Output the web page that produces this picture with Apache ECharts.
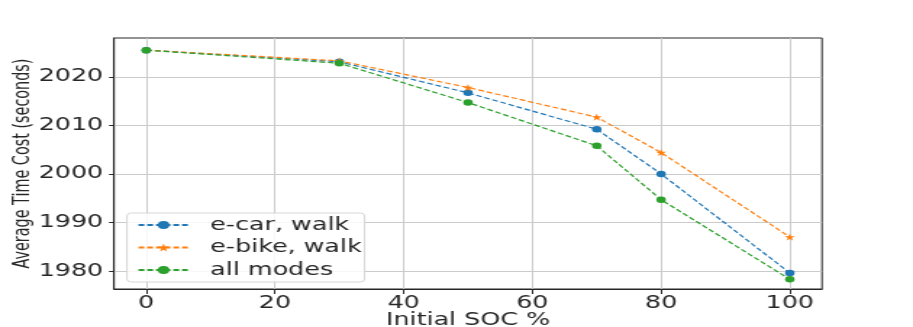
<!DOCTYPE html>
<html>
<head>
<meta charset="utf-8">
<script src="https://cdn.jsdelivr.net/npm/echarts@6/dist/echarts.min.js"></script>
<style>
html,body{margin:0;padding:0;background:#fff;overflow:hidden;}
#wrap{width:913px;height:327px;overflow:hidden;}
#c{width:630px;height:327px;transform:scaleX(1.44921);transform-origin:0 0;}
</style>
</head>
<body>
<div id="wrap"><div id="c"></div></div>
<script>
const socValues = [0, 30, 50, 70, 80, 100];
const ecarWalk = [2025.5, 2023.1, 2016.7, 2009.2, 2000.0, 1979.6];
const ebikeWalk = [2025.5, 2023.3, 2017.8, 2011.7, 2004.4, 1987.0];
const allModes = [2025.5, 2022.8, 2014.7, 2005.8, 1994.7, 1978.3];
const xTicks = [0, 20, 40, 60, 80, 100];
const yTicks = [1980, 1990, 2000, 2010, 2020];
const seriesNames = ['e-car, walk', 'e-bike, walk', 'all modes'];

const chart = echarts.init(document.getElementById('c'), null, {renderer: 'canvas'});
const pair = arr => socValues.map((x, i) => [x, arr[i]]);
const star = 'path://M0,-10 L2.35,-3.24 L9.51,-3.09 L3.8,1.24 L5.88,8.09 L0,4 L-5.88,8.09 L-3.8,1.24 L-9.51,-3.09 L-2.35,-3.24 Z';
const mk = (name, data, color, symbol, size) => ({
  name, type: 'line', data: pair(data), symbol, symbolSize: size,
  lineStyle: {color, width: 1.2, type: [4, 2]},
  itemStyle: {color}, color, animation: false
});
const ink = '#262626';
chart.setOption({
  animation: false,
  grid: {left: 78.7, right: 62.8, top: 38, bottom: 38, show: true, borderColor: ink, borderWidth: 1,
         containLabel: false, outerBoundsMode: 'none'},
  xAxis: {
    type: 'value', min: -5, max: 105,
    name: 'Initial SOC %', nameLocation: 'middle', nameGap: 22, nameMoveOverlap: false,
    nameTextStyle: {fontFamily: 'DejaVu Sans', fontSize: 17.5, color: ink},
    axisLine: {show: true, onZero: false, lineStyle: {color: ink, width: 1}},
    axisTick: {show: true, inside: false, length: 5, lineStyle: {color: ink}, customValues: xTicks},
    axisLabel: {customValues: xTicks, formatter: v => String(v), fontFamily: 'DejaVu Sans', fontSize: 17.5, color: ink, margin: 5},
    splitLine: {show: true, lineStyle: {color: '#cbcbcb', width: 1}}
  },
  yAxis: {
    type: 'value', min: 1976.3, max: 2028,
    name: 'Average Time Cost (seconds)', nameLocation: 'middle', nameGap: 54.5, nameRotate: 90, nameMoveOverlap: false,
    nameTextStyle: {fontFamily: 'DejaVu Sans Condensed', fontSize: 16, color: ink},
    axisLine: {show: true, onZero: false, lineStyle: {color: ink, width: 1}},
    axisTick: {show: true, inside: false, length: 3.5, lineStyle: {color: ink}, customValues: yTicks},
    axisLabel: {customValues: yTicks, formatter: v => String(v), fontFamily: 'DejaVu Sans', fontSize: 17.5, color: ink, margin: 7.5},
    splitLine: {show: true, lineStyle: {color: '#cbcbcb', width: 1}}
  },
  legend: {
    orient: 'vertical', left: 87.6, top: 213,
    padding: [3, 2, 3, 7],
    itemWidth: 34.5, itemHeight: 10, itemGap: 4.5,
    borderColor: '#d6d6d6', borderWidth: 1, borderRadius: 3,
    backgroundColor: 'rgba(255,255,255,0.85)',
    textStyle: {fontFamily: 'DejaVu Sans', fontSize: 17.5, color: ink, padding: [0, 0, 0, 10]},
    data: seriesNames
  },
  series: [
    mk(seriesNames[0], ecarWalk, '#1f77b4', 'circle', 6.5),
    mk(seriesNames[1], ebikeWalk, '#ff7f0e', star, 7),
    mk(seriesNames[2], allModes, '#2ca02c', 'circle', 6.5)
  ]
});
</script>
</body>
</html>
